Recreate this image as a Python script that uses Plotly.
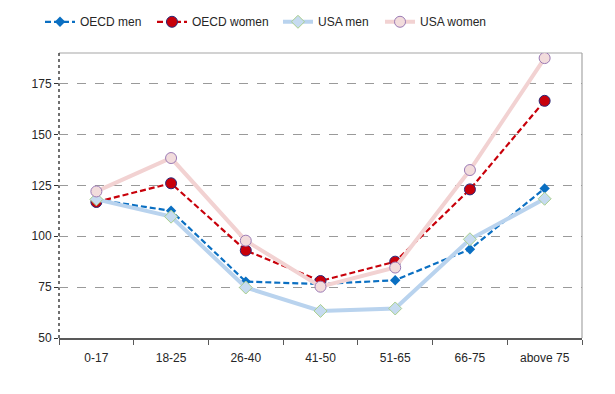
import plotly.graph_objects as go

categories = ["0-17", "18-25", "26-40", "41-50", "51-65", "66-75", "above 75"]
oecd_men = [118, 112.5, 77.7, 76.5, 78.4, 93.6, 123.5]
oecd_women = [116.8, 126, 93, 78, 87.5, 123, 166.5]
usa_men = [118.1, 109.6, 74.8, 63.3, 64.5, 98.5, 118.4]
usa_women = [122, 138.4, 97.8, 75.2, 84.6, 132.5, 187.5]
y_ticks = [50, 75, 100, 125, 150, 175]

DASH = "6px,3px"
fig = go.Figure()
fig.add_trace(go.Scatter(
    x=categories, y=oecd_men, name="OECD men", mode="lines+markers", legend="legend",
    line=dict(color="#0A6FC2", width=2.2, dash=DASH),
    marker=dict(symbol="diamond", size=8, color="#0A6FC2", line=dict(width=0))))
fig.add_trace(go.Scatter(
    x=categories, y=oecd_women, name="OECD women", mode="lines+markers", legend="legend2",
    line=dict(color="#C8000A", width=2.2, dash=DASH),
    marker=dict(symbol="circle", size=11, color="#C8000A", line=dict(width=1, color="#2B2A7A"))))
fig.add_trace(go.Scatter(
    x=categories, y=usa_men, name="USA men", mode="lines+markers", legend="legend3",
    line=dict(color="#B9D3EE", width=4),
    marker=dict(symbol="diamond", size=10, color="#C6DBF0", line=dict(width=1, color="#A9CF8C"))))
fig.add_trace(go.Scatter(
    x=categories, y=usa_women, name="USA women", mode="lines+markers", legend="legend4",
    line=dict(color="#F2D2D2", width=4),
    marker=dict(symbol="circle", size=11, color="#F2DCDC", line=dict(width=1, color="#9B7BB5"))))

def leg(x):
    return dict(orientation="h", x=x, xanchor="left", yref="container", y=0.965,
                yanchor="middle", font=dict(size=12, color="#262626"),
                bgcolor="rgba(0,0,0,0)")

fig.update_layout(
    width=615, height=394,
    margin=dict(l=51, r=41, t=45, b=64),
    paper_bgcolor="white", plot_bgcolor="white",
    font=dict(family="Liberation Sans, Arial, sans-serif", size=12, color="#262626"),
    showlegend=True,
    legend=leg(-0.0363), legend2=leg(0.1778), legend3=leg(0.4187), legend4=leg(0.6138),
    xaxis=dict(type="category", tickson="boundaries", ticks="outside", ticklen=5,
               tickcolor="#595959", showline=True, linecolor="#595959", linewidth=1.5,
               showgrid=False, zeroline=False, range=[-0.5, 6.5], fixedrange=True,
               ticklabelstandoff=8),
    yaxis=dict(range=[50, 190], tickvals=y_ticks, ticks="outside", ticklen=4,
               tickcolor="#333333", showline=False, showgrid=True, gridcolor="#9A9A9A",
               griddash="dash", gridwidth=1, zeroline=False, fixedrange=True),
    shapes=[
        dict(type="line", xref="paper", yref="paper", x0=0, x1=1, y0=1, y1=1,
             line=dict(color="#A6A6A6", width=1.2), layer="below"),
        dict(type="line", xref="paper", yref="paper", x0=1, x1=1, y0=0, y1=1,
             line=dict(color="#A6A6A6", width=1.2), layer="below"),
        dict(type="line", xref="paper", yref="paper", x0=0, x1=0, y0=0, y1=1,
             line=dict(color="#111111", width=1.2, dash="dot"), layer="below"),
    ],
)

fig.write_html("out.html")
